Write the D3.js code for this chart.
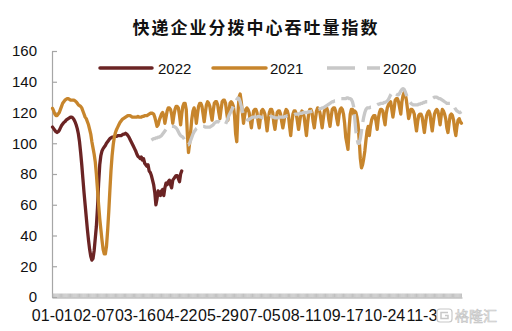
<!DOCTYPE html>
<html><head><meta charset="utf-8">
<script src="https://cdn.jsdelivr.net/npm/d3@7"></script>
<style>
body{margin:0;background:#fff;}
svg{display:block;font-family:"Liberation Sans",Arial,sans-serif;}
</style>
</head><body>
<svg id="c" width="512" height="331"></svg>
<script>
const title = "快递企业分拨中心吞吐量指数";
const seriesNames = ["2022", "2021", "2020"];
const seriesColors = ["#6b2424", "#c7852c", "#c8c8c8"];
const yTicks = [0, 20, 40, 60, 80, 100, 120, 140, 160];
const tickLabels = ["01-01","02-07","03-16","04-22","05-29","07-05","08-11","09-17","10-24","11-30"];
const start2022 = "01-01";
const start2021 = "01-01";
const start2020 = "03-30";

const values2022 = [
110.5,109.5,108.5,107.5,107,107.5,108.5,110,111.5,112.5,
113.5,114,115,115.5,116,116.5,117,117,116.5,115.5,
114,112,109.5,106,101,94,86,77,68,60,
52,44,37,31,26.5,24,25,30,38,46,
58,74,86,92,95,96.5,97.5,98.5,100,101,
102,103,103.5,104,104,104.5,104.5,104.5,105,105,
105,105,105.5,106,106,106.5,106,105,104,102.5,
101,99.5,98,96.5,95,93,91.5,91,90,91,
89,90,87,86,85,86,82,81,79,76,
73,68,60,64,69,68,66,69,70,66,
71,74,73,75,76,73,71,76,77,78,
79,79,77,75,80,82];

const values2021 = [
122.7,121,119,118,118,119,120,122,124,126,
127,128,128.5,129,129,128.5,128,128,128,128,
127.5,127,126,125,124.5,124,123,121,119,117,
116,114,112,109,106,101,97,93,88,80,
70,60,51,44,37,31,28,28,33,43,
55,69,82,92,99,104,107,109,110.5,112,
113.5,114.5,115.5,116,116.5,117,117.5,118,118,118,
117.5,117,117,117,117,117,117.5,117,117,117,
117.5,117.5,118,118,118,118.5,119,119.5,
119.5,119.5,119,117,114,111,
112,115,117,119,120,118,113,
117,121,123,123,122,119,113,
118,122,124,124,123,118,112,
119,124,126,126,122,106,94,
100,108,116,121,123,120,113,
119,124,126,126,124,119,114,
120,125,127,126,124,119,115,
121,126,127,127,125,120,116,
122,127,128,128,126,120,115,
121,126,127,126,124,118,106,
101,119,130,132,127,120,113,
118,122,123,122,120,115,110,
116,121,122,122,120,114,110,
116,121,122,121,119,114,108,
115,120,122,122,120,113,109,
115,120,121,121,119,114,110,
114,120,122,121,118,111,105,
113,119,121,121,119,114,109,
114,119,121,120,117,111,105,
113,119,122,122,120,114,110,
116,121,123,122,120,115,110,
116,121,123,123,121,115,111,
117,122,123,123,121,116,112,
118,122,123,122,119,113,104,
100,96,110,119,122,122,119,
121,120,117,112,102,90,84,
86,90,95,102,108,111,105,
111,115,117,118,118,114,109,
116,120,122,122,121,116,112,
119,123,125,126,127,122,117,
122,128,129,129,127,123,119,
127,131,133,132,128,122,116,
119,122,122,121,119,113,108,
114,118,119,119,117,112,107,
113,118,120,121,119,113,108,
114,119,121,122,121,117,112,
118,122,121,119,116,110,107,
113,118,119,118,115,109,105,
111,115,116,114,113];

const values2020 = [
102,102.5,103,103,103.5,103.5,104,104,104.5,105,
106,107,108,109,109.5,110,110.5,110.5,111,111,
111,110.5,110,109,107.5,106,105,104.5,104,103,
101.5,100,99,99,100,102,104,106,107.5,108.5,
109.5,110,110.5,111,111,111,111,111,110.5,110.5,
110.5,110.5,110.5,111,111.5,112,113,113.5,114,114,
114,113.5,113,112.5,112,112,112.5,114,116,118,
119.5,121,122.5,124,125.5,127,128.5,129.5,129,127,
124,121,118.5,117,116,115.5,115,115.5,116,116.5,
117,117,117,117,117,117.5,117.5,117,117,116.5,
116.5,117,117,117,117,117,117.5,117.5,117,117,
116.5,116.5,116.5,116.5,117,117,117,117,117,117.5,
117.5,118,118,118,118,118.5,118.5,118.5,119,119,
119,119,119.5,119.5,119.5,120,120,120,120,120,
120.5,120.5,120.5,121,121,121,121.5,121.5,122,122,
122.5,122.5,123,123,123.5,124,124.5,125,125.5,126,
126.5,127,127,127.5,127.5,128,128,128.5,129,129,
129,129,129,129,129.5,129.5,129,129,128.5,127,
124,116,108,103,100,100,103,108,113,117,
120,122,123,123,123,123.5,123.5,124,124,124.5,
124.5,125,125.5,125.5,126,126,126,126.5,126.5,127,
127.5,128.5,130,131.5,132.5,133.5,133,132.5,132,131.5,
131.5,132.5,134,135,135.5,135,133.5,131.5,129.5,128,
127,126,125.5,125,125,125,125,125,125.5,125.5,
126,126,126.5,126.5,127,127,127,127.5,128,128.5,
129,129.5,130,130,130,129.5,129,129,128.5,128,
127.5,127,126.5,126,126,126,126,126,125.5,124.5,
123,122,121,120.5,120,120,120.5];

// categories: every day of a (non-leap) year, labelled MM-DD
const fmt = d3.timeFormat("%m-%d");
const categories = d3.timeDay.range(new Date(2021, 0, 1), new Date(2022, 0, 1)).map(fmt);

function toPoints(values, start) {
  const s = categories.indexOf(start);
  return values.map((v, i) => ({c: categories[s + i], v}));
}
const data = [
  {name: seriesNames[0], color: seriesColors[0], pts: toPoints(values2022, start2022), dash: null},
  {name: seriesNames[1], color: seriesColors[1], pts: toPoints(values2021, start2021), dash: null},
  {name: seriesNames[2], color: seriesColors[2], pts: toPoints(values2020, start2020), dash: "19,7"}
];

const svg = d3.select("#c");
const x = d3.scaleBand().domain(categories).range([52, 462]).paddingInner(0).paddingOuter(0);
const y = d3.scaleLinear().domain([0, 160]).range([297, 51]);
const cx = c => x(c) + x.bandwidth() / 2;

// title
svg.append("text").attr("x", 256).attr("y", 34).attr("text-anchor", "middle")
  .style("font-family", "'Noto Sans CJK SC', sans-serif").style("font-size", "17px")
  .style("font-weight", "bold").style("letter-spacing", "2px").attr("fill", "#111")
  .text(title);

// y axis
const yAxis = d3.axisLeft(y).tickValues(yTicks).tickSizeInner(-5).tickSizeOuter(0).tickPadding(15);
const gy = svg.append("g").attr("transform", "translate(52,0)").call(yAxis);
gy.select(".domain").attr("stroke", "#a6a6a6").attr("stroke-width", 1.2);
gy.selectAll(".tick line").attr("stroke", "#a6a6a6").attr("stroke-width", 1.2);
gy.selectAll(".tick text").attr("fill", "#111").style("font-size", "15px")
  .style("font-family", "'Liberation Sans', Arial, sans-serif");

// x axis: ticks at every category, pointing inward
const xAxis = d3.axisTop(x).tickSizeInner(4).tickSizeOuter(0).tickFormat("");
const gx = svg.append("g").attr("transform", "translate(0,297.5)").call(xAxis);
gx.select(".domain").attr("stroke", "#a6a6a6").attr("stroke-width", 1.2);
gx.selectAll(".tick line").attr("stroke", "#b0b0b0").attr("stroke-width", 0.8);

// x labels
svg.append("g").selectAll("text").data(tickLabels).join("text")
  .attr("x", d => x(d) + 0.3).attr("y", 321).attr("text-anchor", "middle")
  .attr("fill", "#111").style("font-size", "16px").text(d => d);

// lines (drawn in legend order, last on top)
const line = d3.line().defined(d => d.v != null).x(d => cx(d.c)).y(d => y(d.v));
data.forEach(s => {
  svg.append("path").datum(s.pts).attr("d", line).attr("fill", "none")
    .attr("stroke", s.color).attr("stroke-width", 3.3)
    .attr("stroke-linejoin", "round").attr("stroke-linecap", s.dash ? "butt" : "round")
    .attr("stroke-dasharray", s.dash);
});

// legend
const legendPos = [{x1: 100, x2: 152, tx: 158}, {x1: 213, x2: 266, tx: 270}, {x1: 327, x2: 380, tx: 383}];
data.forEach((s, i) => {
  const p = legendPos[i];
  svg.append("line").attr("x1", p.x1).attr("x2", p.x2).attr("y1", 68).attr("y2", 68)
    .attr("stroke", s.color).attr("stroke-width", 3.5)
    .attr("stroke-linecap", s.dash ? "butt" : "round")
    .attr("stroke-dasharray", s.dash ? "28,12" : null);
  svg.append("text").attr("x", p.tx).attr("y", 73.5).attr("fill", "#111")
    .style("font-size", "15px").text(s.name);
});

// watermark (logo drawn as shapes, name as text)
const wm = svg.append("g");
wm.append("rect").attr("x", 437).attr("y", 309).attr("width", 15).attr("height", 13).attr("rx", 3)
  .attr("fill", "#fff").attr("stroke", "#c8c8c8").attr("stroke-width", 1.2);
wm.append("path").attr("d", "M448,312.5 L441,312.5 L441,318.5 L448,318.5 L448,315.5 L445,315.5")
  .attr("fill", "none").attr("stroke", "#c8c8c8").attr("stroke-width", 1.5);
wm.append("text").attr("x", 455).attr("y", 321)
  .style("font-family", "'Noto Sans CJK SC', sans-serif").style("font-size", "14px")
  .attr("fill", "#eeeeee").attr("stroke", "#c4c4c4").attr("stroke-width", 0.6).text("格隆汇");
</script>
</body></html>
